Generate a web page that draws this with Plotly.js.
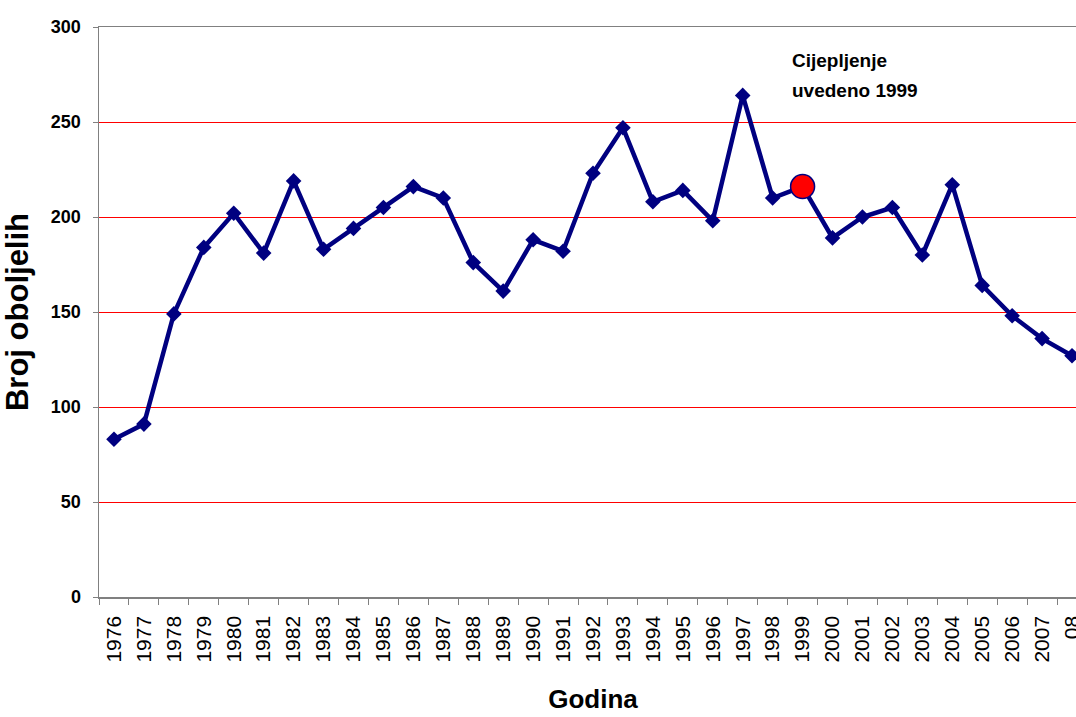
<!DOCTYPE html>
<html>
<head>
<meta charset="utf-8">
<script src="https://cdn.plot.ly/plotly-3.0.1.min.js"></script>
<style>
html, body { margin:0; padding:0; overflow:hidden; background:#fff; }
#chart { width:1100px; height:717px; }
</style>
</head>
<body>
<div id="chart"></div>
<script>
var years = ["1976","1977","1978","1979","1980","1981","1982","1983","1984","1985","1986","1987","1988","1989","1990","1991","1992","1993","1994","1995","1996","1997","1998","1999","2000","2001","2002","2003","2004","2005","2006","2007","2008"];
var cases = [83, 91, 149, 184, 202, 181, 219, 183, 194, 205, 216, 210, 176, 161, 188, 182, 223, 247, 208, 214, 198, 264, 210, 216, 189, 200, 205, 180, 217, 164, 148, 136, 127];
var tickLabels = ["1976","1977","1978","1979","1980","1981","1982","1983","1984","1985","1986","1987","1988","1989","1990","1991","1992","1993","1994","1995","1996","1997","1998","1999","2000","2001","2002","2003","2004","2005","2006","2007","08"];
var highlightYear = ["1999"];
var highlightValue = [cases[years.indexOf("1999")]];
var yTicks = [0, 50, 100, 150, 200, 250, 300];
var noteLines = ["Cijepljenje", "uvedeno 1999"];

var traces = [
  {
    x: years, y: cases, type: "scatter", mode: "lines+markers",
    line: {color: "#000080", width: 4.5},
    marker: {symbol: "diamond", size: 12, color: "#000080"},
    cliponaxis: true, hoverinfo: "x+y"
  },
  {
    x: highlightYear, y: highlightValue, type: "scatter", mode: "markers",
    marker: {symbol: "circle", size: 24, color: "#ff0000", line: {color: "#000080", width: 1.5}},
    hoverinfo: "x+y"
  }
];

var layout = {
  width: 1100, height: 717,
  margin: {l: 99, r: 13, t: 27, b: 120},
  paper_bgcolor: "#ffffff", plot_bgcolor: "#ffffff",
  showlegend: false,
  font: {family: "Liberation Sans, Arial, sans-serif", color: "#000000"},
  xaxis: {
    type: "category",
    categoryorder: "array", categoryarray: years,
    tickvals: years, ticktext: tickLabels,
    tickson: "boundaries",
    ticks: "outside", ticklen: 6, tickcolor: "#808080", tickwidth: 1,
    tickangle: -90,
    tickfont: {size: 21, family: "Liberation Sans, Arial, sans-serif"},
    ticklabelstandoff: 9,
    showline: true, linecolor: "#808080", linewidth: 1.5, mirror: true,
    showgrid: false, zeroline: false,
    range: [-0.5, years.length - 0.5],
    automargin: false,
    title: {text: "Godina", font: {size: 26, family: "Liberation Sans, Arial, sans-serif", weight: "bold"}, standoff: 28}
  },
  yaxis: {
    range: [0, 300],
    tickvals: yTicks,
    ticks: "outside", ticklen: 5, tickcolor: "#808080", tickwidth: 1,
    tickfont: {size: 18, family: "Liberation Sans, Arial, sans-serif", weight: "bold"},
    ticklabelstandoff: 8,
    showline: true, linecolor: "#808080", linewidth: 1.5,
    showgrid: true, gridcolor: "#ff0000", gridwidth: 1,
    zeroline: false,
    automargin: false,
    title: {text: "Broj oboljelih", font: {size: 31, family: "Liberation Sans, Arial, sans-serif", weight: "bold"}, standoff: 15}
  },
  annotations: [
    {xref: "paper", yref: "paper", x: (790 - 99) / 988, y: 1 - (61 - 27) / 570, text: noteLines[0],
     showarrow: false, xanchor: "left", yanchor: "middle", font: {size: 19, weight: "bold"}},
    {xref: "paper", yref: "paper", x: (790 - 99) / 988, y: 1 - (90 - 27) / 570, text: noteLines[1],
     showarrow: false, xanchor: "left", yanchor: "middle", font: {size: 19, weight: "bold"}}
  ]
};

Plotly.newPlot("chart", traces, layout, {displayModeBar: false, staticPlot: true});
</script>
</body>
</html>
